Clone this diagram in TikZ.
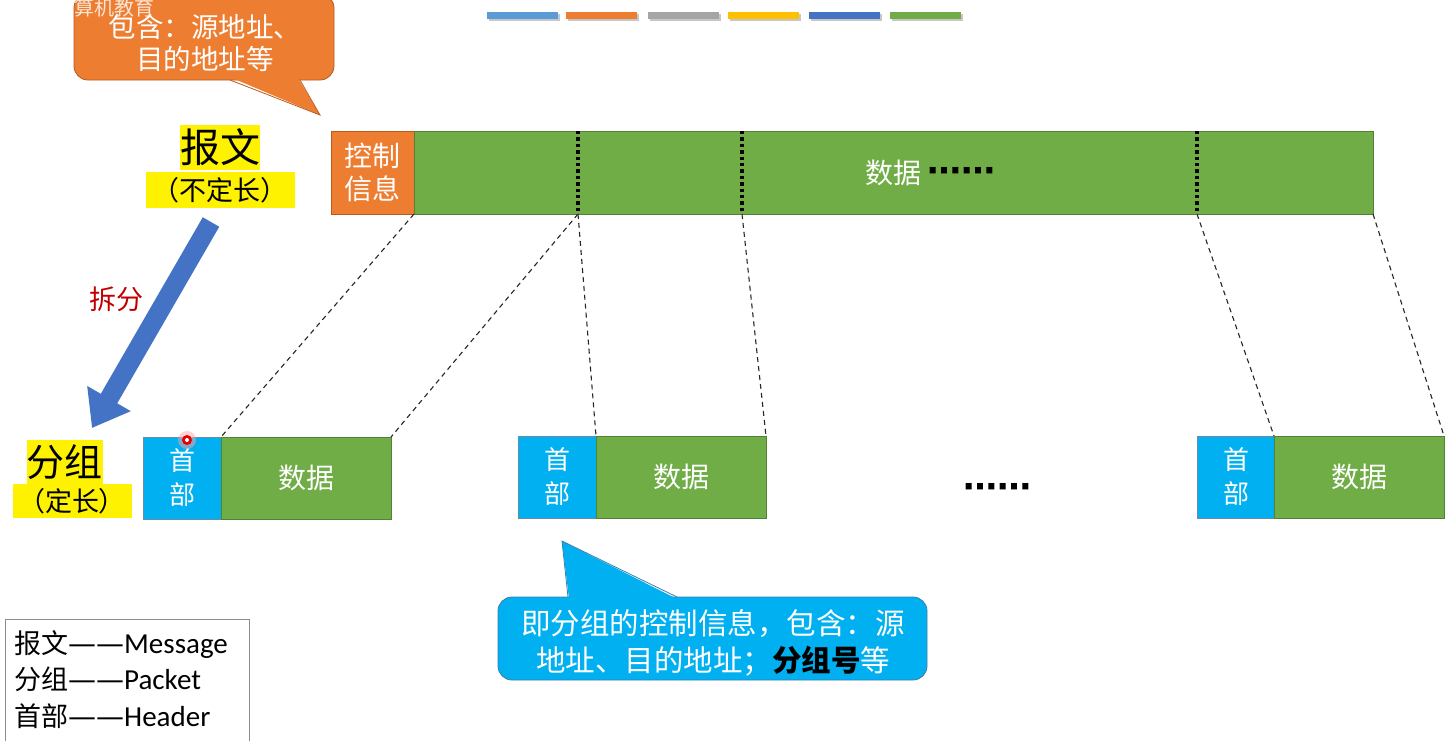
\documentclass[tikz,border=0pt]{standalone}
\usepackage{fontspec}
\setmainfont{Noto Sans CJK SC}
\newfontfamily\lat{Carlito}
\newfontfamily\dej{DejaVu Sans}
\usetikzlibrary{arrows.meta}
\definecolor{cgreen}{HTML}{70AD47}
\definecolor{cgreenD}{HTML}{548235}
\definecolor{corange}{HTML}{ED7D31}
\definecolor{corangeD}{HTML}{B85A1E}
\definecolor{cblue}{HTML}{00B0F0}
\definecolor{cblueD}{HTML}{3A7FA8}
\definecolor{chdrD}{HTML}{6A8CA8}
\definecolor{carrow}{HTML}{4472C4}
\definecolor{cred}{HTML}{C00000}
\definecolor{lb1}{HTML}{5B9BD5}
\definecolor{lb2}{HTML}{ED7D31}
\definecolor{lb3}{HTML}{A5A5A5}
\definecolor{lb4}{HTML}{FFC000}
\definecolor{lb5}{HTML}{4472C4}
\definecolor{lb6}{HTML}{70AD47}
\newcommand{\fsz}[2]{\fontsize{#1}{#2}\selectfont}
\tikzset{
  box/.style={draw, line width=1, inner sep=0, outer sep=0, anchor=north west, text=white, align=center},
  hdr/.style={box, fill=cblue, draw=chdrD, minimum width=78, minimum height=82, font=\fsz{26}{34}},
  dat/.style={box, fill=cgreen, draw=cgreenD, minimum width=170, minimum height=82, font=\fsz{28}{33}},
  dashline/.style={dash pattern=on 5pt off 4pt, line width=1.1, black!85},
  sepline/.style={line width=3.4, dash pattern=on 3.4pt off 3pt, black},
  hl/.style={fill=yellow, inner sep=0, outer sep=0, text=black},
  dots/.style={text=black, inner sep=0, font=\dej\bfseries\fsz{34}{38}},
}
\begin{document}
\begin{tikzpicture}[x=1pt, y=-1pt]
\useasboundingbox (0,0) rectangle (1449,740);
\clip (0,0) rectangle (1449,740);
\fill[white] (0,0) rectangle (1449,740);

% colour legend bars at top
\foreach \x/\c in {487/lb1, 566/lb2, 648/lb3, 728/lb4, 809/lb5, 890/lb6}{
  \fill[black!22] (\x+1.5,13.5) rectangle ++(71,7);
  \fill[\c] (\x,12) rectangle ++(71,7);
}

% orange callout
\filldraw[fill=corange, draw=corangeD, line width=0.8, rounded corners=14] (74,-6) rectangle (334,80);
\fill[corange] (232,78) -- (320,115) -- (298,78) -- cycle;
\draw[corangeD, line width=0.8] (230,80) -- (320,115) -- (300,80);
\node[text=white, align=center, font=\fsz{27.5}{32}] (cbo) at (205,43) {包含：源地址、\\目的地址等};

% watermark
\node[text=white, opacity=0.8, inner sep=0, font=\fsz{20}{22}] (wm) at (114,8) {算机教育};

% message bar
\node[box, fill=corange, draw=corangeD, minimum width=83, minimum height=83, font=\fsz{28}{33}] (ctrl) at (331,131) {控制\\信息};
\node[box, fill=cgreen, draw=cgreenD, minimum width=959, minimum height=83] (mdat) at (414,131) {};
\coordinate (s1t) at (578,131); \coordinate (s1b) at (578,214);
\coordinate (s2t) at (742,131); \coordinate (s2b) at (742,214);
\coordinate (s3t) at (1197,131); \coordinate (s3b) at (1197,214);
\draw[sepline] (s1t) -- (s1b);
\draw[sepline] (s2t) -- (s2b);
\draw[sepline] (s3t) -- (s3b);
\node[text=white, font=\fsz{28}{33}] (mtxt) at (893,173) {数据};
\node[dots, anchor=west] (mdots) at (927,175) {⋯⋯};

% labels
\node[hl, minimum width=79, minimum height=45, font=\fsz{40}{44}] (bw1) at (220,147) {报文};
\node[hl, minimum width=149, minimum height=36, font=\fsz{27}{30}] (bw2) at (220,190) {（不定长）};
\node[hl, minimum width=76, minimum height=45, font=\fsz{38}{42}] (fz1) at (65,462) {分组};
\node[hl, minimum width=119, minimum height=34, font=\fsz{27}{30}] (fz2) at (72,501) {（定长）};

% big arrow
\coordinate (arrS) at (211,222);
\coordinate (arrE) at (92,428);
\draw[carrow, line width=19, -{Triangle[width=48pt,length=34pt]}] (arrS) -- (arrE);
\node[text=cred, font=\fsz{27}{30}] (cf) at (116,299) {拆分};

% packets
\node[hdr] (p1h) at (143,437) {首\\部};
\node[dat] (p1d) at (221,437) {数据};
\node[hdr] (p2h) at (518,436) {首\\部};
\node[dat] (p2d) at (596,436) {数据};
\node[hdr] (p3h) at (1197,436) {首\\部};
\node[dat] (p3d) at (1274,436) {数据};
\node[dots] (pdots) at (997,491) {⋯⋯};

% pointer dot
\fill[red!35, opacity=0.5] (187,440) circle (9);
\fill[red!90!black] (187,440) circle (5);
\fill[white] (187,440) circle (2);

% dashed mapping lines
\draw[dashline] (ctrl.south east) -- (p1d.north west);
\draw[dashline] (s1b) -- (p1d.north east);
\draw[dashline] (s1b) -- (p2d.north west);
\draw[dashline] (s2b) -- (p2d.north east);
\draw[dashline] (s3b) -- (p3d.north west);
\draw[dashline] (mdat.south east) -- (p3d.north east);

% blue callout
\filldraw[fill=cblue, draw=cblueD, line width=0.8, rounded corners=14] (498,597) rectangle (927,680);
\fill[cblue] (569,598.5) -- (562,541) -- (676,598.5) -- cycle;
\draw[cblueD, line width=0.8] (568,597) -- (562,541) -- (677,597);
\node[text=white, align=center, font=\fsz{29.5}{37}] (cbb) at (713,643) {即分组的控制信息，包含：源\\地址、目的地址；{\color{black}\bfseries 分组号}等};

% legend box
\node[draw=black!45, line width=1, fill=white, minimum width=244, minimum height=122, anchor=north west, inner sep=0] (leg) at (5,619) {};
\node[anchor=north west, align=left, inner sep=0, font=\fsz{27}{36.5}] (legt) at (14,630) {报文{\dej\fsz{28}{36.5}——}{\lat\fsz{29}{36.5}Message}\\分组{\dej\fsz{28}{36.5}——}{\lat\fsz{29}{36.5}Packet}\\首部{\dej\fsz{28}{36.5}——}{\lat\fsz{29}{36.5}Header}};
\end{tikzpicture}
\end{document}
